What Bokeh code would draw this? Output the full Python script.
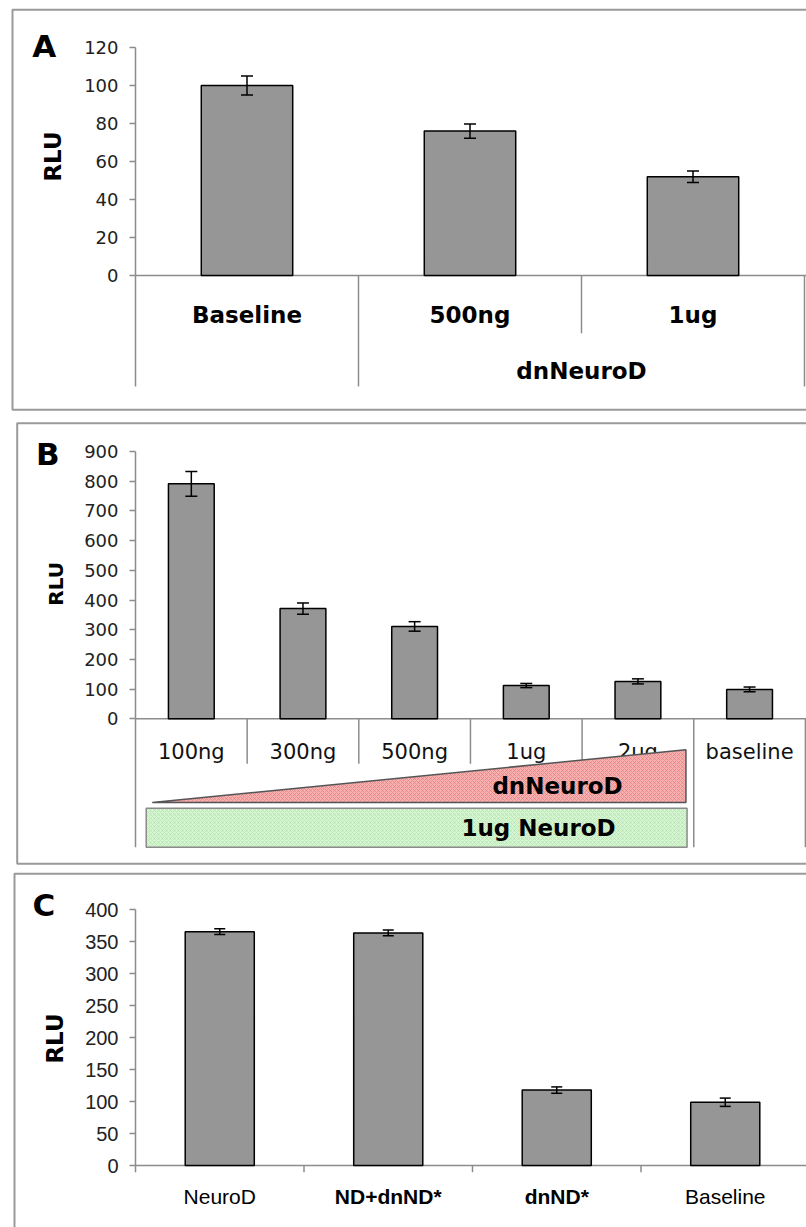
import numpy as np
from bokeh.plotting import figure
from bokeh.models import (Range1d, FixedTicker, Whisker, TeeHead, ColumnDataSource)
from bokeh.layouts import column
from bokeh.core.properties import value
from bokeh.embed import file_html
from bokeh.resources import INLINE

# ---------------- data ----------------
# Panel A
a_categories = ["Baseline", "500ng", "1ug"]
a_values = [100, 76, 52]
a_errors = [5, 3.7, 3]
a_group_label = "dnNeuroD"
a_ticks = [0, 20, 40, 60, 80, 100, 120]

# Panel B
b_categories = ["100ng", "300ng", "500ng", "1ug", "2ug", "baseline"]
b_values = [791, 371, 311, 112, 126, 99]
b_errors = [42, 19, 16, 7, 8.5, 8]
b_ticks = [0, 100, 200, 300, 400, 500, 600, 700, 800, 900]
b_triangle_label = "dnNeuroD"
b_box_label = "1ug NeuroD"

# Panel C
c_categories = ["NeuroD", "ND+dnND*", "dnND*", "Baseline"]
c_values = [366, 364, 118, 99]
c_errors = [4.5, 4.5, 5, 6.5]
c_label_styles = ["normal", "bold", "bold", "normal"]
c_ticks = [0, 50, 100, 150, 200, 250, 300, 350, 400]

# ---------------- styling ----------------
W = 806
AXIS_X = 135          # canvas x of the value axis
BAR_FILL = "#969696"
GRID_GREY = "#8c8c8c"
BOX_GREY = "#9a9a9a"
BOLD_FONT = "DejaVu Sans"


class Panel:
    def __init__(self, H, zero, ppu, cat_px, ticks, tick_font, tick_size):
        self.H, self.zero, self.ppu, self.cat_px = H, zero, ppu, cat_px
        p = figure(width=W, height=H,
                   x_range=Range1d(self.dx(0), self.dx(W)),
                   y_range=Range1d(self.dy(H), self.dy(0)),
                   output_backend="svg", toolbar_location=None, title=None,
                   x_axis_location=None, y_axis_location="left",
                   min_border_left=0, min_border_right=0,
                   min_border_top=0, min_border_bottom=0,
                   background_fill_color="white", border_fill_color="white",
                   outline_line_color=None)
        p.grid.visible = False
        ax = p.yaxis[0]
        ax.fixed_location = 0
        ax.ticker = FixedTicker(ticks=ticks)
        ax.bounds = (0, ticks[-1])
        ax.axis_line_color = GRID_GREY
        ax.axis_line_width = 1.5
        ax.major_tick_line_color = GRID_GREY
        ax.major_tick_line_width = 1.5
        ax.major_tick_out = 6
        ax.major_tick_in = 0
        ax.minor_tick_line_color = None
        ax.major_label_text_font = tick_font
        ax.major_label_text_font_size = tick_size
        ax.major_label_text_color = "#222222"
        ax.major_label_standoff = 11
        self.p = p

    # canvas pixel -> data coordinate (layout helpers)
    def dx(self, cx):
        return (cx - AXIS_X) / self.cat_px

    def dy(self, cy):
        return (self.zero - cy) / self.ppu

    def box(self, left, top, bottom, right=W + 20):
        self.p.quad(left=[self.dx(left)], right=[self.dx(right)],
                    top=[self.dy(top)], bottom=[self.dy(bottom)],
                    fill_color=None, line_color=BOX_GREY, line_width=2)

    def baseline(self):
        self.p.segment(x0=[0], y0=[0], x1=[self.dx(W + 5)], y1=[0],
                       line_color=GRID_GREY, line_width=1.5)

    def bars(self, values, errors, head=12):
        xs = [i + 0.5 for i in range(len(values))]
        self.p.vbar(x=xs, top=values, bottom=0, width=0.41, fill_color=BAR_FILL,
                    line_color="black", line_width=1.5)
        src = ColumnDataSource(dict(x=xs,
                                    upper=[v + e for v, e in zip(values, errors)],
                                    lower=[v - e for v, e in zip(values, errors)]))
        self.p.add_layout(Whisker(base="x", upper="upper", lower="lower", source=src,
                                  level="overlay", line_color="black", line_width=1.5,
                                  upper_head=TeeHead(size=head, line_width=1.5,
                                                     line_color="black"),
                                  lower_head=TeeHead(size=head, line_width=1.5,
                                                     line_color="black")))
        return xs

    def decor(self, letter, letter_xy, rlu_xy, rlu_size):
        self.p.text(x=[self.dx(letter_xy[0])], y=[self.dy(letter_xy[1])], text=[letter],
                    text_font=value(BOLD_FONT), text_font_style="bold",
                    text_font_size="31px", text_align="center", text_baseline="middle",
                    text_color="black")
        self.p.text(x=[self.dx(rlu_xy[0])], y=[self.dy(rlu_xy[1])], text=["RLU"],
                    angle=np.pi / 2, text_font=value(BOLD_FONT), text_font_style="bold",
                    text_font_size=rlu_size, text_align="center", text_baseline="middle",
                    text_color="black")


# ---------------- Panel A (page y 0-416) ----------------
A = Panel(416, 275, 1.9, 223, a_ticks, "DejaVu Sans", "18px")
A.box(12, 9.3, 409.3)
A.baseline()
xa = A.bars(a_values, a_errors, 12)
nA = len(a_categories)
full_A, short_A = -58.4, -30.4
div_x = list(range(nA + 1))
A.p.segment(x0=div_x, y0=[0] * len(div_x), x1=div_x,
            y1=[full_A, full_A, short_A, full_A],
            line_color=GRID_GREY, line_width=1.5)
A.p.text(x=xa, y=[-21] * nA, text=a_categories, text_font=value(BOLD_FONT),
         text_font_style="bold", text_font_size="23px", text_align="center",
         text_baseline="middle", text_color="black")
A.p.text(x=[(1 + nA) / 2], y=[-50.5], text=[a_group_label], text_font=value(BOLD_FONT),
         text_font_style="bold", text_font_size="23px", text_align="center",
         text_baseline="middle", text_color="black")
A.decor("A", (43.7, 45), (52.5, 156), "23px")

# ---------------- Panel B (page y 416-868) ----------------
B = Panel(452, 302.3, 0.297, 111.65, b_ticks, "DejaVu Sans", "18px")
B.box(16.7, 6.7, 447.3)
B.baseline()
xb = B.bars(b_values, b_errors, 12)
nB = len(b_categories)
short_B, long_B = -151.5, -432.3
bx = list(range(nB + 1))
B.p.segment(x0=bx, y0=[0] * len(bx), x1=bx,
            y1=[long_B, short_B, short_B, short_B, short_B, long_B, long_B],
            line_color=GRID_GREY, line_width=1.5)
B.p.text(x=xb, y=[-112.5] * nB, text=b_categories, text_font=value("DejaVu Sans"),
         text_font_size="21px", text_align="center", text_baseline="middle",
         text_color="#111111")
# decorative 1ug NeuroD bar and dnNeuroD ramp
B.p.quad(left=[0.096], right=[4.94], top=[-301.0], bottom=[-432.3],
         fill_color="#d6f5d2", line_color="#8a8a8a", line_width=1.5,
         hatch_pattern="diagonal_cross", hatch_color="#9fdc9a", hatch_alpha=0.6,
         hatch_scale=4, hatch_weight=0.8)
B.p.patch(x=[0.15, 4.93, 4.93], y=[-281.8, -104.4, -281.8],
          fill_color="#f6b0b0", line_color="#555555", line_width=1.5,
          hatch_pattern="diagonal_cross", hatch_color="#e06a6a", hatch_alpha=0.6,
          hatch_scale=4, hatch_weight=0.8)
B.p.text(x=[3.78], y=[-225], text=[b_triangle_label], text_font=value(BOLD_FONT),
         text_font_style="bold", text_font_size="23px", text_align="center",
         text_baseline="middle", text_color="black")
B.p.text(x=[3.61], y=[-366], text=[b_box_label], text_font=value(BOLD_FONT),
         text_font_style="bold", text_font_size="23px", text_align="center",
         text_baseline="middle", text_color="black")
B.decor("B", (47.2, 37.8), (55.3, 167.3), "20px")

# ---------------- Panel C (page y 868-1227) ----------------
C = Panel(359, 297, 0.639, 168.5, c_ticks, "Liberation Sans", "20px")
C.box(14, 5.3, 420)
C.baseline()
xc = C.bars(c_values, c_errors, 11)
nC = len(c_categories)
cx = list(range(nC))
C.p.segment(x0=cx, y0=[0] * nC, x1=cx, y1=[-10.5] * nC,
            line_color=GRID_GREY, line_width=1.5)
C.p.text(x=xc, y=[-48.5] * nC, text=c_categories, text_font=value("Liberation Sans"),
         text_font_style=c_label_styles, text_font_size="21px", text_align="center",
         text_baseline="middle", text_color="black")
C.decor("C", (43.3, 36.7), (54, 170), "23px")

layout = column(A.p, B.p, C.p, spacing=0)
open("out.html", "w").write(file_html(layout, INLINE))
